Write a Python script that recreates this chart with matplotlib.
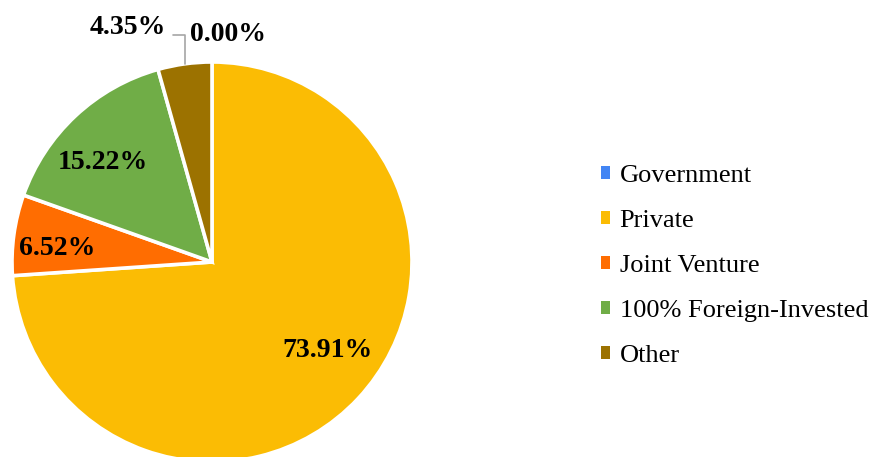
import numpy as np
import matplotlib
matplotlib.use("Agg")
import matplotlib.pyplot as plt

categories = ["Government", "Private", "Joint Venture", "100% Foreign-Invested", "Other"]
shares = [0.00, 73.91, 6.52, 15.22, 4.35]
colors = ["#4285F4", "#FBBC04", "#FF6D01", "#70AD47", "#9C7200"]

plt.rcParams["font.family"] = ["Liberation Serif", "DejaVu Serif"]

W, H = 873, 457
fig = plt.figure(figsize=(W / 100, H / 100), dpi=100)
cx, cy, R = 212, 262, 200
ax = fig.add_axes([(cx - R) / W, (H - cy - R) / H, 2 * R / W, 2 * R / H])

wedges, _ = ax.pie(shares, colors=colors, startangle=90, counterclock=False,
                   radius=1.0, wedgeprops=dict(edgecolor="white", linewidth=2.6))
ax.set_xlim(-1, 1)
ax.set_ylim(-1, 1)
ax.set_aspect("equal")
ax.axis("off")

# label placement (radius, angle offset from wedge mid-angle) per slice
label_r = [1.138, 0.725, 0.775, 0.74, 1.248]
label_dang = [-4.0, 5.6, 2.7, 4.5, 11.9]
for i, (w, v) in enumerate(zip(wedges, shares)):
    mid = 0.5 * (w.theta1 + w.theta2) + label_dang[i]
    x = label_r[i] * np.cos(np.radians(mid))
    y = label_r[i] * np.sin(np.radians(mid))
    txt = f"{v:.2f}%"
    if categories[i] == "Other":
        wm = np.radians(0.5 * (w.theta1 + w.theta2))
        ax.annotate(txt, xy=(np.cos(wm), np.sin(wm)), xytext=(x, y),
                    ha="center", va="center", fontsize=20, fontweight="bold",
                    annotation_clip=False,
                    arrowprops=dict(arrowstyle="-", color="#A6A6A6", lw=1.2,
                                    relpos=(1.0, 0.2), shrinkA=3, shrinkB=0,
                                    connectionstyle="angle,angleA=0,angleB=90,rad=0"))
    else:
        ax.text(x, y, txt, ha="center", va="center", fontsize=20,
                fontweight="bold", clip_on=False)

leg = fig.legend(wedges, categories, loc="center left",
                 bbox_to_anchor=(590 / W, (H - 266) / H), frameon=False,
                 fontsize=19, handlelength=0.34, handleheight=0.34,
                 handletextpad=0.38, labelspacing=0.87, borderaxespad=0)
for h in leg.legend_handles:
    h.set_edgecolor("none")

fig.savefig("out.png", dpi=100)
